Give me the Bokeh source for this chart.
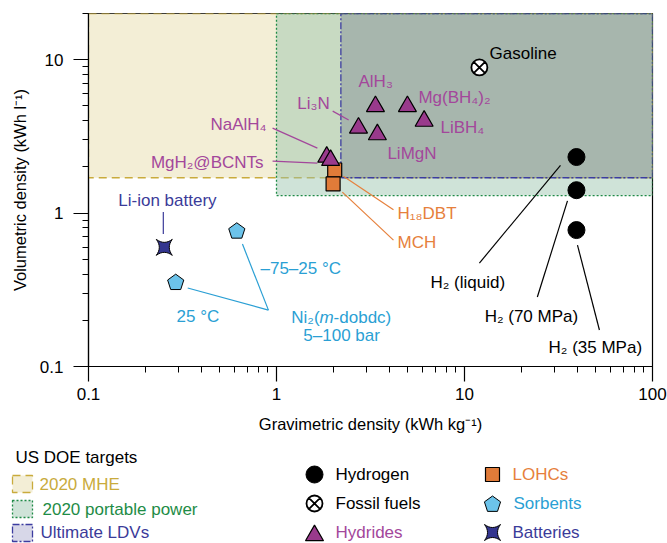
from bokeh.plotting import figure
from bokeh.models import Range1d, FixedTicker, CustomJSTickFormatter
from bokeh.embed import file_html
from bokeh.resources import INLINE
from bokeh.core.properties import value
import math

FONT = "Liberation Sans"

# ---------------- data ----------------
h2_names = ["H₂ (liquid)", "H₂ (70 MPa)", "H₂ (35 MPa)"]
h2_grav = [39.4, 39.4, 39.4]
h2_vol = [2.32, 1.41, 0.775]

fossil_names = ["Gasoline"]
fossil_grav = [12.0]
fossil_vol = [8.9]

hydride_names = ["AlH₃", "Mg(BH₄)₂", "LiBH₄", "Li₃N", "LiMgN", "NaAlH₄", "MgH₂@BCNTs"]
hydride_grav = [3.36, 4.97, 6.1, 2.73, 3.44, 1.85, 1.94]
hydride_vol = [4.96, 4.96, 3.98, 3.59, 3.25, 2.32, 2.21]

lohc_names = ["H₁₈DBT", "MCH"]
lohc_grav = [2.04, 2.0]
lohc_vol = [1.91, 1.55]

sorbent_names = ["Ni₂(m-dobdc) –75–25 °C", "Ni₂(m-dobdc) 25 °C"]
sorbent_grav = [0.615, 0.291]
sorbent_vol = [0.761, 0.352]

battery_names = ["Li-ion battery"]
battery_grav = [0.253]
battery_vol = [0.598]

target_names = ["2020 MHE", "2020 portable power", "Ultimate LDVs"]
target_grav_min = [0.1, 1.0, 2.2]
target_vol_min = [1.7, 1.3, 1.7]

legend_names_a = ["Hydrogen", "Fossil fuels", "Hydrides"]
legend_names_b = ["LOHCs", "Sorbents", "Batteries"]

x_ticks = [0.1, 1, 10, 100]
y_ticks = [0.1, 1, 10]
X_MIN, X_MAX = 0.1, 100
Y_MIN, Y_MAX = 0.1, 20

# ---------------- styles ----------------
PURPLE_T, PURPLE_F = "#a3479b", "#993a8c"
ORANGE_T, ORANGE_F = "#e6803c", "#e07b39"
CYAN_T, CYAN_F = "#2a9fd4", "#6cc3ea"
BLUE_T, BLUE_F = "#3b3b99", "#33358f"
target_fill = ["#f3eed6", "#97c2aa", "#6a7486"]
target_alpha = [1.0, 0.46, 0.35]
swatch_fill = ["#f3eed6", "#cfe3d8", "#d7d7e8"]
target_line = ["#c9ab3c", "#1e8a46", "#3c3ca0"]
target_dash = ["8 5", "2 2", "7 2 2 2"]
target_text = ["#c9ab3c", "#1e8c46", "#3b3b99"]

W = 667
FL, FR, FT, FB = 88, 652, 13, 366
H_MAIN = 441
H_LEG = 543 - H_MAIN
FX = (FR - FL) / math.log10(X_MAX / X_MIN)   # px per decade
FY = (FB - FT) / math.log10(Y_MAX / Y_MIN)

x_minor = [k * 10 ** e for e in range(-1, 2) for k in range(2, 10)]
y_minor = [k * 10 ** e for e in range(-1, 1) for k in range(2, 10)] + [20]

p = figure(width=W, height=H_MAIN, x_axis_type="log", y_axis_type="log",
           x_range=Range1d(X_MIN, X_MAX), y_range=Range1d(Y_MIN, Y_MAX),
           output_backend="svg", toolbar_location=None,
           min_border_left=FL, min_border_right=W - FR,
           min_border_top=FT, min_border_bottom=H_MAIN - FB)
p.xgrid.visible = False
p.ygrid.visible = False
p.outline_line_color = "black"
p.outline_line_width = 1.2

for ax in (p.xaxis[0], p.yaxis[0]):
    ax.major_tick_out = 15
    ax.major_tick_in = 0
    ax.minor_tick_out = 6
    ax.minor_tick_in = 0
    ax.axis_line_color = "black"
    ax.axis_line_width = 1.2
    ax.major_tick_line_width = 1.2
    ax.minor_tick_line_width = 1.0
    ax.major_label_text_font = FONT
    ax.major_label_text_font_size = "17px"
    ax.major_label_text_color = "black"
    ax.axis_label_text_font = FONT
    ax.axis_label_text_font_size = "16.5px"
    ax.axis_label_text_font_style = "normal"
    ax.axis_label_text_color = "black"
    ax.formatter = CustomJSTickFormatter(code="return tick.toString();")
p.xaxis.ticker = FixedTicker(ticks=x_ticks, minor_ticks=x_minor)
p.yaxis.ticker = FixedTicker(ticks=y_ticks, minor_ticks=y_minor)
p.xaxis.axis_label = "Gravimetric density (kWh kg⁻¹)"
p.yaxis.axis_label = "Volumetric density (kWh l⁻¹)"
p.xaxis.major_label_standoff = 6
p.xaxis.axis_label_standoff = 12
p.yaxis.major_label_standoff = 10
p.yaxis.axis_label_standoff = 8

# target regions
for i in range(3):
    p.quad(left=[target_grav_min[i]], right=[X_MAX], bottom=[target_vol_min[i]], top=[Y_MAX],
           fill_color=target_fill[i], fill_alpha=target_alpha[i],
           line_color=target_line[i], line_width=1.3, line_dash=target_dash[i])

# leader lines
def seg(x0, y0, x1, y1, color):
    p.segment(x0=x0, y0=y0, x1=x1, y1=y1, line_color=color, line_width=1.2)

seg([1.99, 0.953, 0.953], [4.62, 3.58, 2.18], [2.42, 1.65, 1.65], [4.04, 2.65, 2.12], PURPLE_T)
seg([2.27, 2.24], [1.74, 1.37], [4.19, 4.19], [1.05, 0.667], ORANGE_T)
seg([12.0, 24.4, 39.9], [0.472, 0.284, 0.619], [32.4, 35.3, 52.2], [2.05, 1.2, 0.173], "black")
seg([0.25], [1.015], [0.25], [0.73], BLUE_T)
seg([0.659, 0.337], [0.628, 0.325], [0.906, 0.906], [0.233, 0.233], CYAN_T)

# shapes in screen px (up positive)
def pentagon_shape(r=8.5):
    return [(r * math.cos(math.radians(90 + 72 * k)), r * math.sin(math.radians(90 + 72 * k))) for k in range(5)]

def star4_shape(a=8.0, c=2.0, n=8):
    corners = [(-a, a), (a, a), (a, -a), (-a, -a)]
    ctrls = [(0, c), (c, 0), (0, -c), (-c, 0)]
    pts = []
    for i in range(4):
        A = corners[i]
        B = corners[(i + 1) % 4]
        C = ctrls[i]
        for j in range(n):
            t = j / n
            pts.append(((1 - t) ** 2 * A[0] + 2 * (1 - t) * t * C[0] + t ** 2 * B[0],
                        (1 - t) ** 2 * A[1] + 2 * (1 - t) * t * C[1] + t ** 2 * B[1]))
    return pts

def log_patches(xs, ys, shape):
    px, py = [], []
    for x0, y0 in zip(xs, ys):
        px.append([x0 * 10 ** (dx / FX) for dx, dy in shape])
        py.append([y0 * 10 ** (dy / FY) for dx, dy in shape])
    return px, py

# markers
p.scatter(h2_grav, h2_vol, marker="circle", size=17, fill_color="black", line_color="black")
p.scatter(fossil_grav, fossil_vol, marker="circle_x", size=16, fill_color="white",
          line_color="black", line_width=1.8)
p.scatter(lohc_grav, lohc_vol, marker="square", size=14, fill_color=ORANGE_F,
          line_color="black", line_width=1.2)
p.scatter(hydride_grav, hydride_vol, marker="triangle", size=18, fill_color=PURPLE_F,
          line_color="black", line_width=1.2)
sx, sy = log_patches(sorbent_grav, sorbent_vol, pentagon_shape())
p.patches(sx, sy, fill_color=CYAN_F, line_color="black", line_width=1.0)
bx, by = log_patches(battery_grav, battery_vol, star4_shape())
p.patches(bx, by, fill_color=BLUE_F, line_color="black", line_width=1.0)

# labels
def txt(fig, xs, ys, texts, color, align="left", size="17px", style="normal", x_offset=0):
    fig.text(x=xs, y=ys, text=texts, text_color=color, text_align=align,
             text_baseline="middle", text_font=value(FONT), text_font_size=value(size),
             text_font_style=style, x_offset=x_offset)

txt(p, [13.6], [11.0], ["Gasoline"], "black")
txt(p, [2.73, 5.69, 7.45, 3.89, 1.29], [7.2, 5.7, 3.63, 2.46, 5.2],
    ["AlH₃", "Mg(BH₄)₂", "LiBH₄", "LiMgN", "Li₃N"], PURPLE_T)
txt(p, [0.885, 0.853], [3.8, 2.15], ["NaAlH₄", "MgH₂@BCNTs"], PURPLE_T, align="right")
txt(p, [4.4, 4.4], [1.0, 0.64], lohc_names, ORANGE_T)
txt(p, [6.59, 12.8, 28.0], [0.355, 0.213, 0.134], h2_names, "black")
txt(p, [0.263], [1.215], battery_names, BLUE_T, align="center")
txt(p, [0.822, 0.294], [0.438, 0.213], ["–75–25 °C", "25 °C"], CYAN_T)
txt(p, [2.22], [0.21], ["Ni₂("], CYAN_T, align="right", x_offset=-22)
txt(p, [2.22], [0.21], ["m"], CYAN_T, align="left", style="italic", x_offset=-22)
txt(p, [2.22], [0.21], ["-dobdc)"], CYAN_T, align="left", x_offset=-8)
txt(p, [2.22], [0.16], ["5–100 bar"], CYAN_T, align="center")

# ---------------- legend figure (pixel coordinates) ----------------
lg = figure(width=W, height=H_LEG, x_range=Range1d(0, W), y_range=Range1d(H_LEG, 0),
            output_backend="svg", toolbar_location=None,
            x_axis_location=None, y_axis_location=None, min_border=0)
lg.grid.visible = False
lg.outline_line_color = None

txt(lg, [15], [16], ["US DOE targets"], "black")
sw_top = [34, 59, 83]
for i in range(3):
    lg.quad(left=[12], right=[32], top=[sw_top[i]], bottom=[sw_top[i] + 17],
            fill_color=swatch_fill[i], line_color=target_line[i], line_width=1.3,
            line_dash=target_dash[i])
txt(lg, [39, 42, 40], [43, 68, 91], target_names, target_text)

lg.scatter([314], [33], marker="circle", size=17, fill_color="black", line_color="black")
lg.scatter([314], [62], marker="circle_x", size=16, fill_color="white", line_color="black", line_width=1.8)
lg.scatter([314], [94], marker="triangle", size=18, fill_color=PURPLE_F, line_color="black", line_width=1.2)
lg.scatter([492], [33], marker="square", size=14, fill_color=ORANGE_F, line_color="black", line_width=1.2)

def px_patch(cx, cy, shape):
    return [cx + dx for dx, dy in shape], [cy - dy for dx, dy in shape]

px1, py1 = px_patch(492, 63, pentagon_shape())
lg.patch(px1, py1, fill_color=CYAN_F, line_color="black", line_width=1.0)
px2, py2 = px_patch(492, 91, star4_shape())
lg.patch(px2, py2, fill_color=BLUE_F, line_color="black", line_width=1.0)

txt(lg, [335, 335, 335], [33, 62, 91], legend_names_a, ["black", "black", PURPLE_T])
txt(lg, [512, 513, 512], [33, 62, 91], legend_names_b, [ORANGE_T, CYAN_T, BLUE_T])

open("out.html", "w").write(file_html([p, lg], INLINE))
